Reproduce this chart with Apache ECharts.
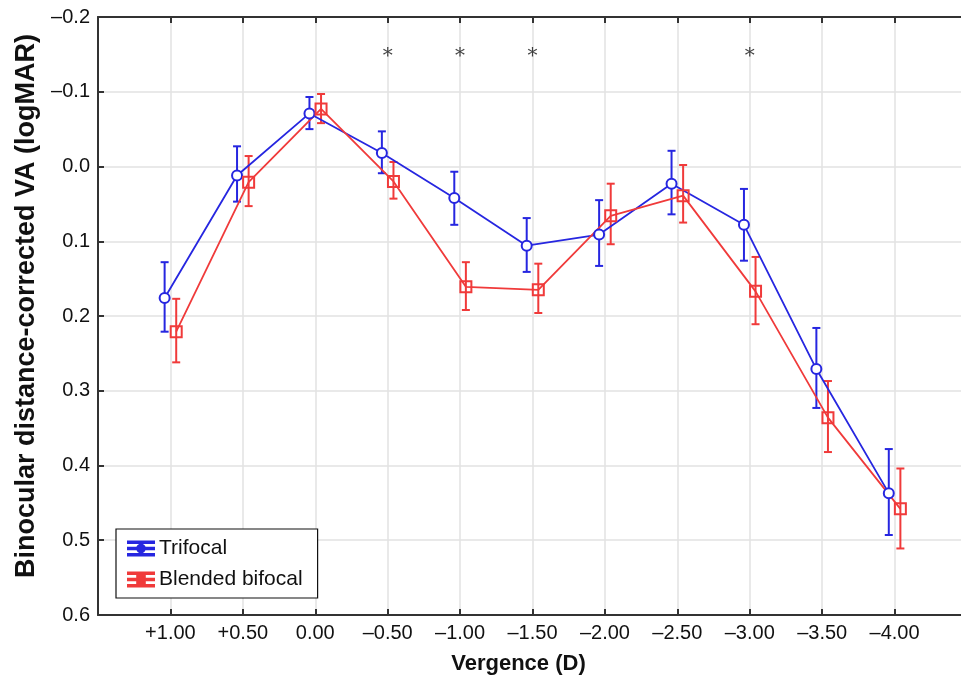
<!DOCTYPE html>
<html>
<head>
<meta charset="utf-8">
<script src="https://cdn.jsdelivr.net/npm/echarts@6/dist/echarts.min.js"></script>
<style>html,body{margin:0;padding:0;background:#fff}#c{width:961px;height:679px}</style>
</head>
<body>
<div id="c"></div>
<script>
// ---- data ----
const vergence = [1.0, 0.5, 0.0, -0.5, -1.0, -1.5, -2.0, -2.5, -3.0, -3.5, -4.0];
const tickLabels = ['+1.00', '+0.50', '0.00', '\u20130.50', '\u20131.00', '\u20131.50', '\u20132.00', '\u20132.50', '\u20133.00', '\u20133.50', '\u20134.00'];
const trifocalMean = [0.176, 0.012, -0.071, -0.018, 0.042, 0.106, 0.091, 0.023, 0.078, 0.271, 0.437];
const trifocalLow  = [0.128, -0.027, -0.093, -0.047, 0.007, 0.069, 0.045, -0.021, 0.030, 0.216, 0.378];
const trifocalHigh = [0.221, 0.047, -0.050, 0.009, 0.078, 0.141, 0.133, 0.064, 0.126, 0.323, 0.493];
const bifocalMean = [0.221, 0.021, -0.077, 0.020, 0.161, 0.165, 0.066, 0.039, 0.167, 0.336, 0.458];
const bifocalLow  = [0.177, -0.014, -0.097, -0.006, 0.128, 0.130, 0.023, -0.002, 0.121, 0.287, 0.404];
const bifocalHigh = [0.262, 0.053, -0.058, 0.043, 0.192, 0.196, 0.104, 0.075, 0.211, 0.382, 0.511];
const significantVergence = [-0.5, -1.0, -1.5, -3.0];
const yTickLabels = {'-0.2': '\u20130.2', '-0.1': '\u20130.1', '0': '0.0', '0.1': '0.1', '0.2': '0.2', '0.3': '0.3', '0.4': '0.4', '0.5': '0.5', '0.6': '0.6'};

// ---- style ----
const BLUE = '#2626e0';
const RED = '#f03a3a';
const OFFSET = 0.04;
const STAR_Y = -0.147;
const FONT = 'Liberation Sans, Arial, sans-serif';

const chart = echarts.init(document.getElementById('c'));

function errBar(color) {
  return function (params, api) {
    const x = api.value(0);
    const p1 = api.coord([x, api.value(1)]);
    const p2 = api.coord([x, api.value(2)]);
    const w = 4;
    const st = {stroke: color, lineWidth: 2};
    return {type: 'group', children: [
      {type: 'line', shape: {x1: p1[0], y1: p1[1], x2: p2[0], y2: p2[1]}, style: st},
      {type: 'line', shape: {x1: p1[0] - w, y1: p1[1], x2: p1[0] + w, y2: p1[1]}, style: st},
      {type: 'line', shape: {x1: p2[0] - w, y1: p2[1], x2: p2[0] + w, y2: p2[1]}, style: st}
    ]};
  };
}

const triX = vergence.map(v => v + OFFSET);
const bifX = vergence.map(v => v - OFFSET);

const iconTri = 'path://M0,1H26V2.6H0Z M0,7.2H26V8.8H0Z M0,13.4H26V15H0Z M12.2,1H13.8V15H12.2Z M13,4.2A3.8,3.8 0 1,1 12.99,4.2Z';
const iconBif = 'path://M0,1H26V2.6H0Z M0,7.2H26V8.8H0Z M0,13.4H26V15H0Z M12.2,1H13.8V15H12.2Z M9.2,4.2H16.8V11.8H9.2Z';

chart.setOption({
  animation: false,
  backgroundColor: '#fff',
  textStyle: {fontFamily: FONT},
  grid: {left: 98, top: 17, width: 869, height: 598, containLabel: false, outerBoundsMode: 'none'},
  legend: {
    orient: 'vertical', left: 116, top: 529,
    backgroundColor: '#fff',
    borderColor: '#111', borderWidth: 1.2, borderRadius: 0,
    padding: [9, 15, 8, 11],
    itemWidth: 26, itemHeight: 16, itemGap: 10,
    textStyle: {fontSize: 21, color: '#111', fontFamily: FONT},
    data: [
      {name: 'Trifocal', icon: iconTri, itemStyle: {color: BLUE}},
      {name: 'Blended bifocal', icon: iconBif, itemStyle: {color: RED}}
    ]
  },
  xAxis: [{
    type: 'value', inverse: true, min: -4.5, max: 1.5, interval: 0.5,
    position: 'bottom',
    name: 'Vergence (D)', nameLocation: 'middle', nameGap: 38,
    nameTextStyle: {fontSize: 22, fontWeight: 'bold', color: '#111', padding: [0, 28, 0, 0]},
    axisLine: {show: true, onZero: false, lineStyle: {color: '#333', width: 2}},
    axisTick: {show: true, inside: true, length: 6, lineStyle: {color: '#333', width: 2}},
    axisLabel: {
      fontSize: 20, color: '#111', margin: 8, showMinLabel: true, showMaxLabel: true,
      formatter: function (v) {
        const i = vergence.findIndex(t => Math.abs(t - v) < 1e-6);
        return i >= 0 ? tickLabels[i] : '';
      }
    },
    splitLine: {show: true, lineStyle: {color: '#e2e2e2', width: 1.5}}
  }, {
    type: 'value', inverse: true, min: -4.5, max: 1.5, interval: 0.5,
    position: 'top',
    axisLine: {show: true, onZero: false, lineStyle: {color: '#333', width: 2}},
    axisTick: {show: true, inside: true, length: 6, lineStyle: {color: '#333', width: 2}},
    axisLabel: {show: false},
    splitLine: {show: false}
  }],
  yAxis: {
    type: 'value', inverse: true, min: -0.2, max: 0.6, interval: 0.1,
    name: 'Binocular distance-corrected VA (logMAR)', nameLocation: 'middle', nameGap: 55,
    nameTextStyle: {fontSize: 27, fontWeight: 'bold', color: '#111', padding: [0, 0, 0, 20]},
    axisLine: {show: true, onZero: false, lineStyle: {color: '#333', width: 2}},
    axisTick: {show: true, inside: true, length: 6, lineStyle: {color: '#333', width: 2}},
    axisLabel: {
      fontSize: 20, color: '#111', margin: 8,
      formatter: function (v) {
        const k = String(Math.round(v * 10) / 10);
        return yTickLabels[k] !== undefined ? yTickLabels[k] : '';
      }
    },
    splitLine: {show: true, lineStyle: {color: '#e2e2e2', width: 1.5}}
  },
  series: [
    {
      name: 'Trifocal', type: 'line',
      data: triX.map((x, i) => [x, trifocalMean[i]]),
      symbol: 'circle', symbolSize: 10,
      lineStyle: {color: BLUE, width: 1.8},
      itemStyle: {color: '#fff', borderColor: BLUE, borderWidth: 2},
      z: 3
    },
    {
      name: 'Trifocal err', type: 'custom',
      data: triX.map((x, i) => [x, trifocalLow[i], trifocalHigh[i]]),
      renderItem: errBar(BLUE), z: 2, silent: true
    },
    {
      name: 'Blended bifocal', type: 'line',
      data: bifX.map((x, i) => [x, bifocalMean[i]]),
      symbol: 'rect', symbolSize: 11,
      lineStyle: {color: RED, width: 1.8},
      itemStyle: {color: 'rgba(255,255,255,0)', borderColor: RED, borderWidth: 2},
      z: 3
    },
    {
      name: 'Blended bifocal err', type: 'custom',
      data: bifX.map((x, i) => [x, bifocalLow[i], bifocalHigh[i]]),
      renderItem: errBar(RED), z: 2, silent: true
    },
    {
      name: 'sig', type: 'scatter',
      data: significantVergence.map(v => [v, STAR_Y]),
      symbolSize: 1, itemStyle: {color: 'rgba(0,0,0,0)'},
      label: {show: true, position: 'inside', formatter: '*', fontSize: 20, color: '#111', fontFamily: 'DejaVu Serif, serif'},
      silent: true
    }
  ]
});
</script>
</body>
</html>
